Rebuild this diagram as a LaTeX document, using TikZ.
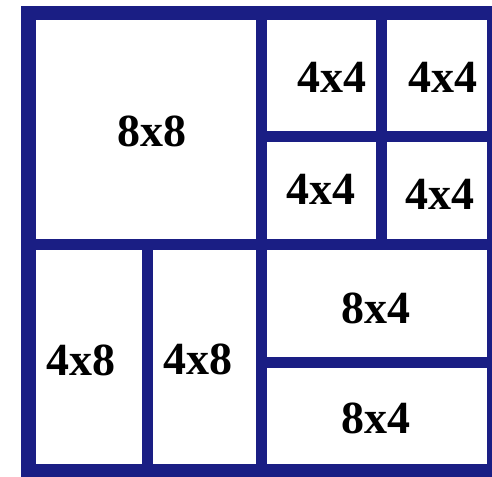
\documentclass[tikz,border=0pt]{standalone}
\usepackage{fontspec}
\setmainfont{Liberation Serif}
\definecolor{navy}{RGB}{26,30,132}
\begin{document}
\begin{tikzpicture}[x=1pt,y=-1pt,
  frame/.style={draw=navy,line width=14.5pt},
  divider/.style={draw=navy,line width=11pt},
  lbl/.style={inner sep=0pt,font=\fontsize{46}{46}\selectfont\bfseries}]
\useasboundingbox (0,0) rectangle (492,476);
\clip (0,0) rectangle (492,476);
\fill[white] (0,0) rectangle (492,476);
% dividers
\draw[divider] (261.5,13) -- (261.5,472);
\draw[divider] (28.5,244.5) -- (495,244.5);
\draw[divider] (381,13) -- (381,244.5);
\draw[divider] (261.5,136) -- (495,136);
\draw[divider] (147,244.5) -- (147,472);
\draw[divider] (261.5,362.5) -- (495,362.5);
% outer frame
\draw[frame] (28.5,13) rectangle (494.5,471.5);
% labels
\node[lbl] (a) at (152,131.5) {8x8};
\node[lbl] (b) at (332,77) {4x4};
\node[lbl] (c) at (443,77.5) {4x4};
\node[lbl] (d) at (321,189.5) {4x4};
\node[lbl] (e) at (440,194.5) {4x4};
\node[lbl] (f) at (81,360) {4x8};
\node[lbl] (g) at (198,359.5) {4x8};
\node[lbl] (h) at (376,308.5) {8x4};
\node[lbl] (i) at (376,418.5) {8x4};
\end{tikzpicture}
\end{document}
